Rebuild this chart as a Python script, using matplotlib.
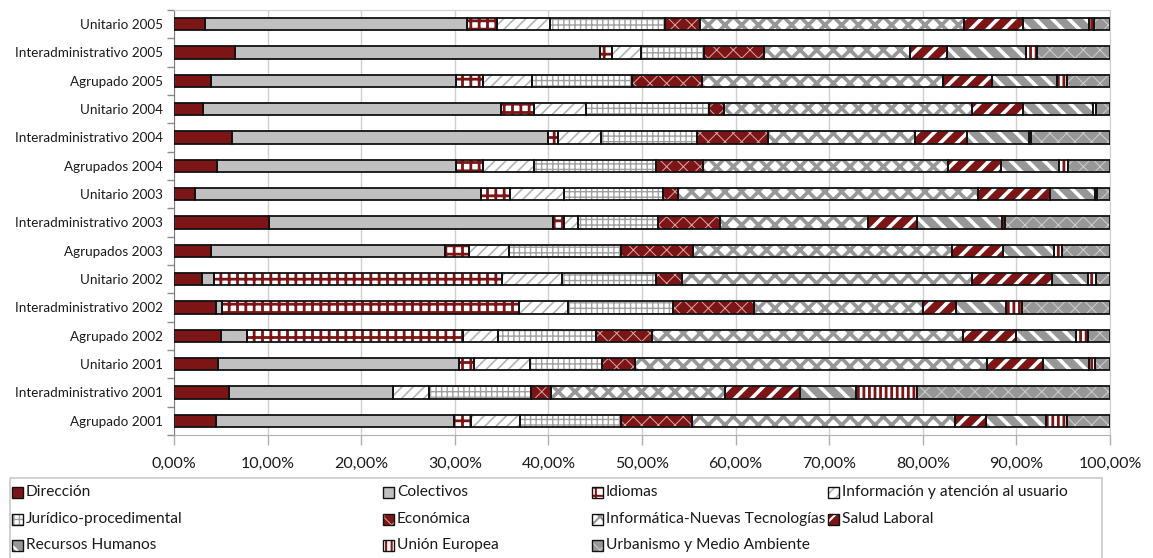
import matplotlib
matplotlib.use('Agg')
import matplotlib.pyplot as plt
from matplotlib.patches import Rectangle
from matplotlib.ticker import FuncFormatter, MultipleLocator
import numpy as np

# ---------------- data (percent of each group, rows top -> bottom) -------------
rows = ["Unitario 2005", "Interadministrativo 2005", "Agrupado 2005",
        "Unitario 2004", "Interadministrativo 2004", "Agrupados 2004",
        "Unitario 2003", "Interadministrativo 2003", "Agrupados 2003",
        "Unitario 2002", "Interadministrativo 2002", "Agrupado 2002",
        "Unitario 2001", "Interadministrativo 2001", "Agrupado 2001"]

categories = ["Dirección", "Colectivos", "Idiomas",
              "Información y atención al usuario", "Jurídico-procedimental",
              "Económica", "Informática-Nuevas Tecnologías", "Salud Laboral",
              "Recursos Humanos", "Unión Europea", "Urbanismo y Medio Ambiente"]

direccion    = [3.3, 6.5, 4.0, 3.1, 6.2, 4.6, 2.2, 10.1, 3.9, 3.0, 4.5, 5.0, 4.7, 5.9, 4.5]
colectivos   = [28.0, 39.0, 26.1, 31.8, 33.8, 25.5, 30.6, 30.4, 25.0, 1.3, 0.6, 2.8, 25.7, 17.5, 25.4]
idiomas      = [3.2, 1.3, 2.9, 3.6, 1.0, 2.9, 3.1, 1.2, 2.6, 30.7, 31.8, 23.1, 1.7, 0.0, 1.8]
informacion  = [5.7, 3.1, 5.3, 5.5, 4.6, 5.5, 5.8, 1.5, 4.3, 6.4, 5.2, 3.7, 5.9, 3.8, 5.3]
juridico     = [12.3, 6.7, 10.6, 13.2, 10.3, 13.0, 10.5, 8.5, 12.0, 10.1, 11.2, 10.5, 7.7, 10.9, 10.8]
economica    = [3.7, 6.4, 7.5, 1.6, 7.6, 5.0, 1.6, 6.6, 7.7, 2.8, 8.7, 6.0, 3.6, 2.2, 7.5]
informatica  = [28.2, 15.6, 25.8, 26.5, 15.7, 26.2, 32.1, 15.8, 27.6, 31.0, 18.0, 33.2, 37.6, 18.6, 28.1]
salud        = [6.3, 4.0, 5.2, 5.4, 5.5, 5.7, 7.7, 5.3, 5.5, 8.5, 3.5, 5.7, 5.9, 8.0, 3.4]
rrhh         = [7.1, 8.4, 6.9, 7.5, 6.6, 6.1, 4.8, 9.1, 5.4, 3.8, 5.4, 6.4, 5.0, 6.0, 6.4]
union_eur    = [0.5, 1.2, 1.1, 0.3, 0.3, 1.0, 0.2, 0.3, 0.9, 0.9, 1.7, 1.3, 0.6, 6.5, 2.2]
urbanismo    = [1.7, 7.8, 4.6, 1.5, 8.4, 4.5, 1.4, 11.2, 5.1, 1.5, 9.4, 2.3, 1.6, 20.6, 4.6]

series = [direccion, colectivos, idiomas, informacion, juridico, economica,
          informatica, salud, rrhh, union_eur, urbanismo]

# ---------------- styles ----------------
RED = "#7D1517"
LGRAY = "#C0C0C0"
MGRAY = "#979797"
styles = [
    # face, hatch, hatch colour, hatch linewidth
    (RED,     None,   RED,      1.0),
    (LGRAY,   None,   LGRAY,    1.0),
    ("white", "++",   RED,      2.0),
    ("white", "///",  "#B4B4B4", 1.2),
    ("white", "+++",  "#A0A0A0", 1.0),
    (RED,     "xx",   "#D8A8A8", 0.7),
    ("white", "xx",   MGRAY,    2.6),
    (RED,     "//",   "white",  2.6),
    (MGRAY,   "\\\\", "white",  2.6),
    ("white", "|||",  RED,      2.0),
    (MGRAY,   "xx",   "#CFCFCF", 0.7),
]

plt.rcParams['font.family'] = ['Lato', 'DejaVu Sans']
plt.rcParams['hatch.linewidth'] = 1.5
TXT = "#1A1A1A"

W, H = 1153, 558
fig = plt.figure(figsize=(W / 100, H / 100), dpi=100)
ax = fig.add_axes([174 / W, 1 - 435 / H, (1110 - 174) / W, (435 - 10) / H])

y = np.arange(len(rows))
left = np.zeros(len(rows))
bar_h = 0.43


def styled_patches(patches, lw):
    for p in patches:
        if hasattr(p, "set_hatch_linewidth"):
            p.set_hatch_linewidth(lw)


for vals, (face, hatch, hcol, hlw) in zip(series, styles):
    vals = np.asarray(vals, dtype=float)
    with plt.rc_context({'hatch.linewidth': hlw}):
        bars = ax.barh(y, vals, left=left, height=bar_h, color=face,
                       hatch=hatch, edgecolor=hcol, linewidth=0, zorder=2)
    styled_patches(bars.patches, hlw)
    ax.barh(y, vals, left=left, height=bar_h, fill=False,
            edgecolor="#111111", linewidth=1.3, zorder=3)
    left += vals

ax.set_xlim(0, 100)
ax.set_ylim(len(rows) - 0.5, -0.5)

# grid and axes
ax.xaxis.set_major_locator(MultipleLocator(10))
ax.xaxis.set_major_formatter(FuncFormatter(lambda v, p: f"{v:.2f}%".replace(".", ",")))
ax.grid(axis="x", color="#CFCFCF", linewidth=1.0, zorder=0)
ax.set_axisbelow(True)
ax.set_yticks(y)
ax.set_yticklabels(rows)
ax.set_yticks(np.arange(len(rows) + 1) - 0.5, minor=True)
ax.tick_params(axis="y", which="major", length=0, pad=8, labelsize=9.7, labelcolor=TXT)
ax.tick_params(axis="y", which="minor", length=5, color="#8C8C8C", width=1)
ax.tick_params(axis="x", which="major", length=7, color="#AFAFAF", width=1,
               pad=9, labelsize=11.5, labelcolor=TXT)
for side in ("top", "right"):
    ax.spines[side].set_color("#CFCFCF")
ax.spines["left"].set_color("#7F7F7F")
ax.spines["bottom"].set_color("#AFAFAF")

# ---------------- legend (drawn in pixel space) ----------------
lax = fig.add_axes([0, 0, 1, 1])
lax.set_xlim(0, W)
lax.set_ylim(H, 0)
lax.axis("off")
lax.add_patch(Rectangle((10, 478), 1092, 120, fill=False, edgecolor="#C8C8C8",
                        linewidth=1.2, clip_on=False))
col_x = [12, 383, 592, 828]
row_y = [492, 519, 545]
sw = 11
for i, (name, (face, hatch, hcol, hlw)) in enumerate(zip(categories, styles)):
    cx = col_x[i % 4]
    cy = row_y[i // 4]
    with plt.rc_context({'hatch.linewidth': min(hlw, 1.5)}):
        r = Rectangle((cx, cy - sw / 2), sw, sw, facecolor=face, hatch=hatch,
                      edgecolor=hcol, linewidth=0)
    if hasattr(r, "set_hatch_linewidth"):
        r.set_hatch_linewidth(min(hlw, 1.5))
    lax.add_patch(r)
    lax.add_patch(Rectangle((cx, cy - sw / 2), sw, sw, fill=False,
                            edgecolor="#111111", linewidth=1.0))
    lax.text(cx + sw + 3, cy, name, va="center", ha="left", fontsize=11.2, color=TXT)

fig.savefig("out.png", dpi=100)
